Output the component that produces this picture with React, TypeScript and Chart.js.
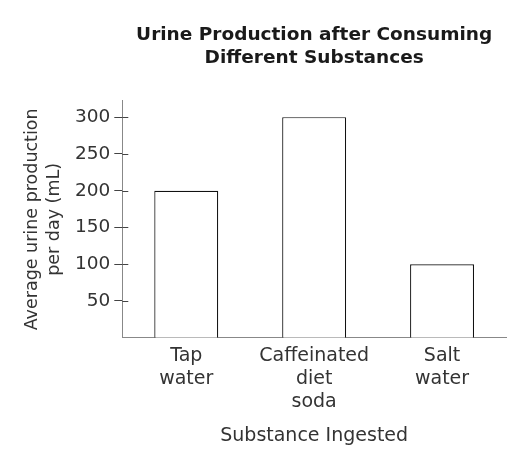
import { useEffect, useRef } from "react";
import { Chart, registerables } from "chart.js";

Chart.register(...registerables);

const categories = [["Tap", "water"], ["Caffeinated", "diet", "soda"], ["Salt", "water"]];
const urineValues = [200, 300, 100];
const yTickValues = [50, 100, 150, 200, 250, 300];
const yMin = 0;
const yMax = 322;
const chartTitle = ["Urine Production after Consuming", "Different Substances"];
const yTitle = ["Average urine production", "per day (mL)"];
const xTitle = "Substance Ingested";

const FONT = "'DejaVu Sans', Verdana, sans-serif";

const innerTicks = {
  id: "innerTicks",
  afterDraw(chart: any) {
    const y = chart.scales.y;
    const ctx = chart.ctx;
    const left = chart.chartArea.left;
    ctx.save();
    ctx.strokeStyle = "#444";
    ctx.lineWidth = 1;
    y.ticks.forEach((t: any) => {
      const py = Math.round(y.getPixelForValue(t.value)) + 0.5;
      ctx.beginPath();
      ctx.moveTo(left, py);
      ctx.lineTo(left + 6, py);
      ctx.stroke();
    });
    ctx.restore();
  },
};

export default function App() {
  const ref = useRef<HTMLCanvasElement | null>(null);

  useEffect(() => {
    if (!ref.current) return;
    const chart = new Chart(ref.current, {
      type: "bar",
      data: {
        labels: categories as any,
        datasets: [
          {
            data: urineValues,
            backgroundColor: "#ffffff",
            borderColor: "#111111",
            borderWidth: 1.2,
            barPercentage: 0.5,
            categoryPercentage: 1,
          },
        ],
      },
      options: {
        animation: false,
        responsive: true,
        maintainAspectRatio: false,
        layout: { padding: { left: 0, right: 22, top: 0, bottom: 12.5 } },
        plugins: {
          legend: { display: false },
          tooltip: { enabled: false },
          title: {
            display: true,
            text: chartTitle,
            fullSize: false,
            color: "#1a1a1a",
            font: { family: FONT, size: 18.5, weight: "bold", lineHeight: 1.216 },
            padding: { top: 24, bottom: 32 },
          },
        },
        scales: {
          x: {
            grid: { display: false, drawTicks: false },
            border: { display: true, color: "#888" },
            ticks: {
              color: "#333",
              font: { family: FONT, size: 19, lineHeight: 1.21 },
              padding: 7,
              maxRotation: 0,
              autoSkip: false,
            },
            title: {
              display: true,
              text: xTitle,
              color: "#333",
              font: { family: FONT, size: 19 },
              padding: { top: 4, bottom: 0 },
            },
          },
          y: {
            min: yMin,
            max: yMax,
            afterBuildTicks: (s: any) => {
              s.ticks = yTickValues.map((v) => ({ value: v }));
            },
            grid: { drawOnChartArea: false, drawTicks: true, tickLength: 8, color: "#444" },
            border: { display: true, color: "#888" },
            ticks: {
              color: "#333",
              font: { family: FONT, size: 18.5 },
              padding: 4,
            },
            title: {
              display: true,
              text: yTitle,
              color: "#333",
              font: { family: FONT, size: 17.5, lineHeight: 1.257 },
              padding: { top: 21, bottom: 6 },
            },
          },
        },
      },
      plugins: [innerTicks],
    });
    return () => chart.destroy();
  }, []);

  return (
    <div style={{ position: "fixed", left: 0, top: 0, width: 528, height: 460, background: "#fff" }}>
      <canvas ref={ref} />
    </div>
  );
}
